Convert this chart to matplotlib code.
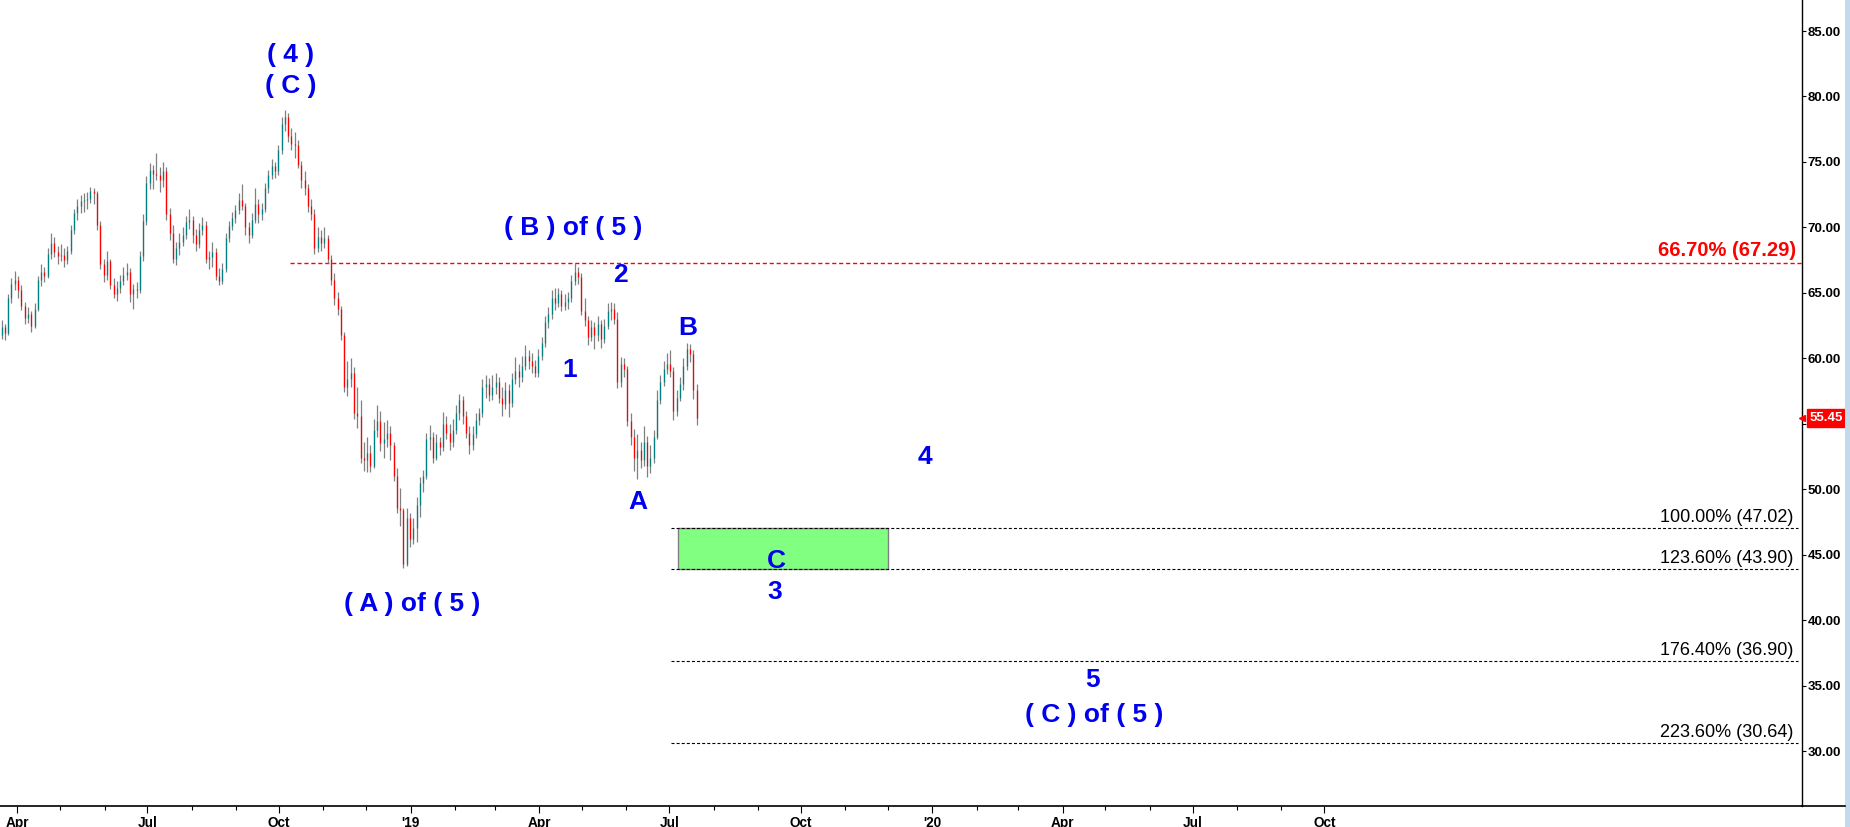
import numpy as np
import pandas as pd
import matplotlib
matplotlib.use('Agg')
import matplotlib.pyplot as plt
import matplotlib.dates as mdates
from matplotlib.patches import Rectangle
from matplotlib.lines import Line2D
from matplotlib.transforms import blended_transform_factory

plt.rcParams['font.family'] = ['Liberation Sans', 'DejaVu Sans']

# price bars
opens = [61.8, 62.4, 61.9, 64.6, 65.7, 66.0, 65.2, 64.0, 63.1, 63.4,
         62.5, 63.8, 66.0, 66.6, 66.3, 68.0, 68.8, 68.1, 67.8, 67.9,
         67.5, 68.2, 69.8, 71.1, 71.6, 72.0, 72.1, 72.2, 72.8, 72.6,
         70.2, 67.2, 66.4, 67.4, 65.6, 64.9, 65.4, 65.9, 66.4, 66.6,
         64.9, 65.3, 65.2, 67.8, 70.5, 73.4, 74.4, 74.1, 74.0, 73.6,
         74.3, 71.0, 69.6, 67.6, 68.4, 68.9, 69.4, 70.4, 70.6, 69.4,
         68.7, 69.8, 70.2, 67.6, 67.7, 68.1, 66.3, 65.9, 66.8, 69.2,
         70.1, 70.7, 71.3, 72.1, 71.6, 70.0, 69.4, 70.6, 71.8, 71.0,
         71.4, 73.0, 74.0, 74.7, 74.3, 75.9, 77.9, 78.4, 77.0, 76.4,
         76.3, 74.8, 73.6, 73.0, 71.6, 71.0, 68.4, 69.3, 68.8, 69.2,
         67.6, 66.0, 64.6, 63.8, 61.8, 57.8, 58.4, 58.9, 55.8, 55.6,
         52.4, 52.2, 52.8, 51.8, 54.5, 55.2, 53.5, 53.8, 54.3, 53.4,
         51.0, 48.6, 48.4, 44.3, 47.8, 46.2, 47.0, 48.8, 50.5, 51.0,
         53.8, 54.0, 52.4, 53.6, 53.2, 55.0, 54.3, 53.6, 54.5, 55.8,
         56.8, 55.6, 54.3, 53.4, 54.2, 55.3, 55.8, 57.8, 58.0, 57.2,
         57.8, 58.2, 57.0, 56.5, 57.6, 56.6, 58.4, 59.0, 58.6, 59.4,
         60.2, 59.8, 59.4, 58.9, 60.2, 61.2, 62.8, 63.4, 64.6, 64.2,
         64.9, 64.0, 64.3, 64.6, 65.9, 66.6, 66.2, 63.6, 62.9, 61.6,
         62.4, 61.8, 62.6, 61.5, 62.5, 63.6, 63.8, 63.0, 58.2, 59.6,
         59.2, 55.2, 54.0, 52.4, 53.0, 52.2, 53.6, 51.8, 52.4, 54.0,
         56.8, 58.2, 59.2, 59.6, 59.0, 56.0, 57.0, 58.0, 59.4, 60.7,
         60.3, 57.6]
highs = [62.9, 62.6, 64.9, 66.1, 66.7, 66.3, 65.6, 64.3, 63.9, 63.6,
         64.2, 66.3, 67.2, 67.0, 68.4, 69.6, 69.3, 68.6, 68.7, 68.4,
         68.6, 70.2, 71.4, 72.2, 72.5, 72.6, 72.7, 73.1, 73.0, 72.8,
         70.5, 67.6, 68.2, 67.6, 66.1, 65.9, 66.4, 67.0, 67.3, 66.9,
         65.7, 65.8, 68.2, 71.0, 73.9, 74.9, 74.8, 75.7, 74.6, 75.0,
         74.6, 71.5, 70.2, 68.9, 69.6, 70.0, 70.9, 71.4, 70.9, 69.9,
         70.3, 70.8, 70.5, 68.2, 68.9, 68.4, 66.9, 67.3, 69.6, 70.5,
         71.2, 71.7, 72.6, 73.3, 71.9, 70.4, 71.1, 73.0, 72.2, 71.9,
         73.4, 74.4, 75.2, 75.0, 76.3, 78.4, 79.0, 78.7, 77.6, 77.3,
         76.7, 75.1, 74.3, 73.3, 72.2, 71.4, 70.0, 69.8, 70.0, 69.4,
         67.9, 66.5, 65.1, 64.0, 62.0, 59.8, 60.0, 59.3, 57.8, 56.8,
         53.6, 54.0, 53.4, 55.4, 56.4, 56.0, 55.1, 55.3, 54.8, 53.6,
         51.6, 50.1, 48.6, 48.6, 48.2, 47.8, 49.4, 50.9, 51.5, 54.3,
         54.9, 54.4, 54.2, 54.0, 55.9, 55.6, 55.0, 55.4, 56.4, 57.3,
         57.1, 56.0, 54.8, 54.8, 55.8, 56.2, 58.4, 58.7, 58.5, 58.7,
         58.9, 58.6, 57.8, 58.2, 58.0, 58.9, 60.1, 59.6, 60.2, 61.0,
         60.6, 60.4, 59.9, 60.7, 61.6, 63.2, 63.9, 65.2, 65.4, 65.4,
         65.2, 64.9, 65.1, 66.4, 67.3, 67.0, 66.5, 64.6, 63.2, 62.9,
         62.8, 63.2, 62.9, 63.0, 64.2, 64.3, 64.2, 63.5, 60.1, 60.0,
         59.4, 55.8, 54.6, 54.2, 53.6, 54.8, 54.1, 53.4, 54.5, 57.6,
         58.7, 59.8, 60.4, 60.6, 59.3, 57.6, 58.6, 60.0, 61.2, 61.1,
         60.6, 58.0]
lows = [61.5, 61.4, 61.8, 64.2, 65.2, 64.6, 63.7, 62.6, 62.7, 62.0,
        62.3, 63.6, 65.5, 65.8, 66.1, 67.6, 67.7, 67.2, 67.4, 67.0,
        67.2, 68.0, 69.5, 70.6, 71.1, 71.2, 71.4, 71.9, 71.8, 69.8,
        66.8, 65.8, 66.0, 65.3, 64.6, 64.4, 65.0, 65.6, 66.0, 64.3,
        63.8, 64.6, 65.0, 67.4, 70.2, 72.9, 72.9, 73.6, 72.7, 73.1,
        70.6, 69.0, 67.3, 67.1, 67.9, 68.6, 69.1, 69.9, 68.8, 68.2,
        68.4, 69.4, 67.3, 66.8, 67.0, 66.0, 65.6, 65.7, 66.6, 68.9,
        69.8, 70.3, 71.0, 71.3, 69.4, 68.8, 69.2, 70.3, 70.3, 70.6,
        71.2, 72.6, 73.7, 73.8, 74.0, 75.6, 77.4, 76.5, 75.9, 75.3,
        74.5, 73.0, 72.5, 71.2, 70.6, 68.0, 68.1, 68.2, 68.4, 67.3,
        65.6, 64.1, 63.3, 61.4, 57.4, 57.1, 57.8, 55.4, 54.7, 52.0,
        51.4, 51.3, 51.3, 51.6, 54.0, 52.9, 52.4, 53.2, 52.2, 50.6,
        48.2, 47.2, 44.0, 44.1, 45.6, 45.8, 46.0, 47.9, 49.8, 50.8,
        53.0, 52.0, 52.2, 52.6, 52.9, 53.8, 53.0, 53.2, 54.2, 55.3,
        55.0, 53.9, 52.7, 53.0, 53.9, 54.9, 55.5, 57.0, 56.7, 56.8,
        57.3, 56.6, 55.6, 56.1, 55.5, 56.3, 58.0, 57.8, 58.2, 59.1,
        59.2, 58.9, 58.6, 58.6, 59.9, 60.9, 62.3, 63.0, 63.7, 63.9,
        63.6, 63.7, 63.8, 64.3, 65.6, 65.7, 63.3, 62.5, 61.0, 61.3,
        60.7, 61.3, 60.8, 61.2, 62.2, 62.9, 62.6, 57.7, 57.8, 58.6,
        54.8, 53.4, 51.4, 50.8, 51.6, 51.8, 50.9, 51.2, 52.0, 53.8,
        56.5, 57.9, 58.8, 58.6, 55.3, 55.6, 56.7, 57.6, 59.1, 59.7,
        56.9, 54.9]
closes = [62.4, 61.9, 64.6, 65.7, 66.0, 65.2, 64.0, 63.1, 63.4, 62.5,
          63.8, 66.0, 66.6, 66.3, 68.0, 68.8, 68.1, 67.8, 67.9, 67.5,
          68.2, 69.8, 71.1, 71.6, 72.0, 72.1, 72.2, 72.8, 72.6, 70.2,
          67.2, 66.4, 67.4, 65.6, 64.9, 65.4, 65.9, 66.4, 66.6, 64.9,
          65.3, 65.2, 67.8, 70.5, 73.4, 74.4, 74.1, 74.0, 73.6, 74.3,
          71.0, 69.6, 67.6, 68.4, 68.9, 69.4, 70.4, 70.6, 69.4, 68.7,
          69.8, 70.2, 67.6, 67.7, 68.1, 66.3, 65.9, 66.8, 69.2, 70.1,
          70.7, 71.3, 72.1, 71.6, 70.0, 69.4, 70.6, 71.8, 71.0, 71.4,
          73.0, 74.0, 74.7, 74.3, 75.9, 77.9, 78.4, 77.0, 76.4, 76.3,
          74.8, 73.6, 73.0, 71.6, 71.0, 68.4, 69.3, 68.8, 69.2, 67.6,
          66.0, 64.6, 63.8, 61.8, 57.8, 58.4, 58.9, 55.8, 55.6, 52.4,
          52.2, 52.8, 51.8, 54.5, 55.2, 53.5, 53.8, 54.3, 53.4, 51.0,
          48.6, 48.4, 44.3, 47.8, 46.2, 47.0, 48.8, 50.5, 51.0, 53.8,
          54.0, 52.4, 53.6, 53.2, 55.0, 54.3, 53.6, 54.5, 55.8, 56.8,
          55.6, 54.3, 53.4, 54.2, 55.3, 55.8, 57.8, 58.0, 57.2, 57.8,
          58.2, 57.0, 56.5, 57.6, 56.6, 58.4, 59.0, 58.6, 59.4, 60.2,
          59.8, 59.4, 58.9, 60.2, 61.2, 62.8, 63.4, 64.6, 64.2, 64.9,
          64.0, 64.3, 64.6, 65.9, 66.6, 66.2, 63.6, 62.9, 61.6, 62.4,
          61.8, 62.6, 61.5, 62.5, 63.6, 63.8, 63.0, 58.2, 59.6, 59.2,
          55.2, 54.0, 52.4, 53.0, 52.2, 53.6, 51.8, 52.4, 54.0, 56.8,
          58.2, 59.2, 59.6, 59.0, 56.0, 57.0, 58.0, 59.4, 60.7, 60.3,
          57.6, 55.45]
first_bar, last_bar = '2018-03-21', '2019-07-20'
last_price = 55.45

# fibonacci projections
fib_pct = ['100.00%', '123.60%', '176.40%', '223.60%']
fib_levels = [47.02, 43.90, 36.90, 30.64]
fib_start = '2019-07-02'
retrace_pct, retrace_level, retrace_start = '66.70%', 67.29, '2018-10-09'
box_start, box_end = '2019-07-07', '2019-12-01'

# wave counts
wave_text = ['( 4 )', '( C )', '( B ) of ( 5 )', '( A ) of ( 5 )', '1', '2',
             'A', 'B', 'C', '3', '4', '5', '( C ) of ( 5 )']
wave_date = ['2018-10-09', '2018-10-09', '2019-04-25', '2019-01-02', '2019-04-22',
             '2019-05-28', '2019-06-09', '2019-07-14', '2019-09-14', '2019-09-13',
             '2019-12-27', '2020-04-22', '2020-04-23']
wave_price = [83.2, 80.8, 69.95, 41.2, 59.1, 66.35, 49.0, 62.3, 44.5, 42.15,
              52.45, 35.4, 32.75]

xtick_dates = ['2018-04-01', '2018-07-01', '2018-10-01', '2019-01-01', '2019-04-01',
               '2019-07-01', '2019-10-01', '2020-01-01', '2020-04-01', '2020-07-01',
               '2020-10-01']
xtick_labels = ['Apr', 'Jul', 'Oct', "'19", 'Apr', 'Jul', 'Oct', "'20", 'Apr', 'Jul', 'Oct']
yticks = [30, 35, 40, 45, 50, 55, 60, 65, 70, 75, 80, 85]

W, H = 1850, 827
fig = plt.figure(figsize=(W / 100, H / 100), dpi=100)
ax = fig.add_axes([0, 21 / H, 1802 / W, 806 / H])

o, h, l, c = map(np.array, (opens, highs, lows, closes))
x = mdates.date2num(pd.date_range(first_bar, last_bar, periods=len(c)))
up = c >= o
ax.vlines(x, l, h, color='#808080', lw=0.9, zorder=2)
ax.vlines(x[up], o[up], c[up], color='#008080', lw=0.9, zorder=3)
ax.vlines(x[~up], o[~up], c[~up], color='#ff0000', lw=0.9, zorder=3)

jan19 = mdates.datestr2num('2019-01-01')
x0, x1 = jan19 - 287.1, jan19 + 973.1
ax.set_xlim(x0, x1)
ax.set_ylim(25.8, 87.37)

trans = blended_transform_factory(ax.transAxes, ax.transData)

# 66.7% retracement
ax.plot([mdates.datestr2num(retrace_start), x1], [retrace_level] * 2,
        color='red', lw=1.0, dashes=(3.0, 2.0), zorder=1)
ax.annotate(f'{retrace_pct} ({retrace_level:.2f})', xy=(1, retrace_level), xycoords=trans,
            xytext=(-4.5, 2), textcoords='offset points', ha='right', va='bottom',
            color='red', fontsize=14.5, fontweight='bold')

# target zone and projections
bs, be = mdates.datestr2num(box_start), mdates.datestr2num(box_end)
ax.add_patch(Rectangle((bs, fib_levels[1]), be - bs, fib_levels[0] - fib_levels[1],
                       facecolor='#80ff80', edgecolor='#808080', lw=1, zorder=1))
for pct, lvl in zip(fib_pct, fib_levels):
    ax.plot([mdates.datestr2num(fib_start), x1 - 3], [lvl] * 2,
            color='black', lw=0.8, dashes=(2.7, 1.9), zorder=1)
    ax.annotate(f'{pct} ({lvl:.2f})', xy=(1, lvl), xycoords=trans,
                xytext=(-6.5, 1.5), textcoords='offset points', ha='right', va='bottom',
                color='black', fontsize=13)

for txt, d, p in zip(wave_text, wave_date, wave_price):
    ax.text(mdates.datestr2num(d), p, txt, ha='center', va='center',
            color='#0000ee', fontsize=19, fontweight='bold', zorder=5)

# axes look
for s in ('left', 'top'):
    ax.spines[s].set_visible(False)
ax.spines['right'].set_linewidth(1)
ax.spines['bottom'].set_linewidth(1.2)

# the 55.00 label sits under the last-price tag
ax.yaxis.tick_right()
ax.set_yticks(yticks)
ax.set_yticklabels(['' if v == 55 else f'{v:.2f}' for v in yticks],
                   fontsize=9.5, fontweight='bold')
ax.tick_params(axis='y', direction='out', length=3, pad=1, width=0.8)

ax.set_xticks([mdates.datestr2num(d) for d in xtick_dates])
ax.set_xticklabels(xtick_labels, fontsize=9.8, fontweight='bold')
minor = [d for d in pd.date_range('2018-05-01', '2020-09-01', freq='MS')
         if d.month not in (1, 4, 7, 10)]
ax.set_xticks(mdates.date2num(minor), minor=True)
ax.tick_params(axis='x', which='major', direction='out', length=5, pad=2.2, width=0.8)
ax.tick_params(axis='x', which='minor', direction='out', length=2.9, width=0.8)

# last price tag
ax.plot([1], [last_price], marker='<', color='red', ms=4, transform=trans, clip_on=False, zorder=9)
ax.annotate(f'{last_price:.2f}', xy=(1, last_price), xycoords=trans,
            xytext=(5.5, 0), textcoords='offset points', ha='left', va='center',
            color='white', fontsize=9.5, fontweight='bold', annotation_clip=False, zorder=10,
            bbox=dict(boxstyle='square,pad=0.22', fc='red', ec='red'))

# bottom rule running past the price scale and the side bar
fig.add_artist(Line2D([1802 / W, 1845 / W], [21 / H, 21 / H], color='black', lw=1.2))
fig.add_artist(Rectangle((1845 / W, 0), 5 / W, 1, transform=fig.transFigure,
                         facecolor='#c4d9ee', edgecolor='none'))

fig.savefig('out.png', dpi=100)
